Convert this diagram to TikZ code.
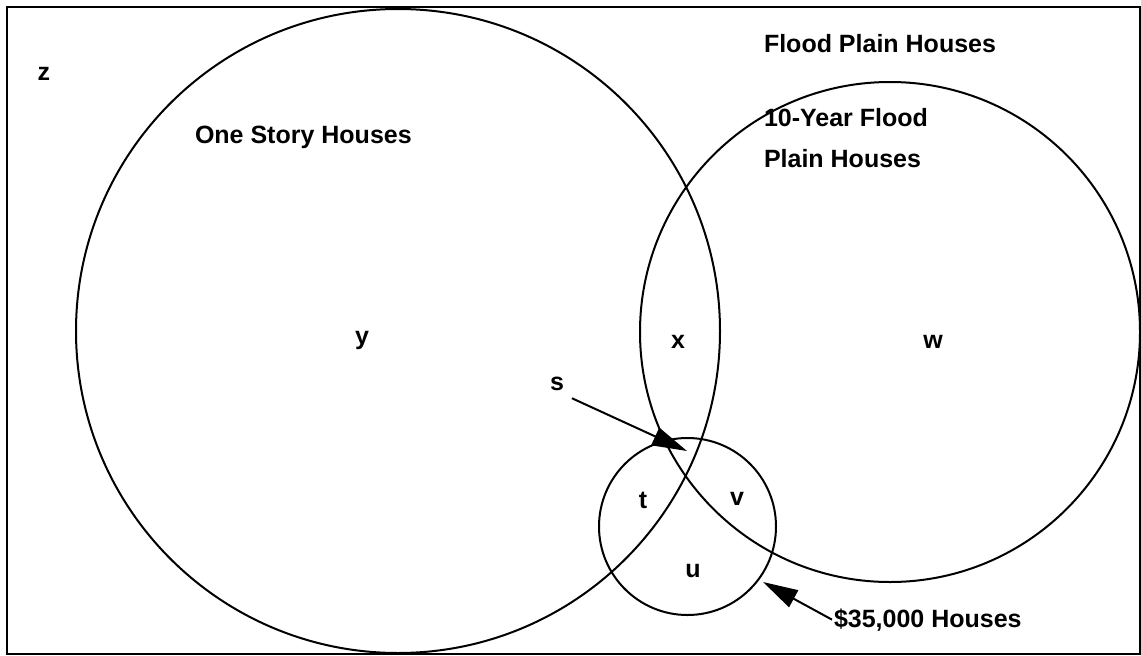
\documentclass[tikz,border=0pt]{standalone}
\usepackage{fontspec}
\setmainfont{Liberation Sans}
\usetikzlibrary{arrows.meta}

\begin{document}
\begin{tikzpicture}[x=1pt,y=-1pt,line width=2pt,
   every node/.style={font=\fontsize{25}{41}\selectfont\bfseries,inner sep=1pt},
   venn/.style={draw,circle,inner sep=0pt},
   region/.style={anchor=base},
   title/.style={anchor=base west,align=left},
   pointer/.style={-{Triangle[length=35pt,width=19pt]}}]
   \useasboundingbox (0,0) rectangle (1141,656);
   \draw (7,7) rectangle (1140,654);
   % the three sets
   \node[venn,minimum size=644pt] (oneStory) at (398,331) {};
   \node[venn,minimum size=500pt] (tenYear) at (890,332) {};
   \node[venn,minimum size=177pt] (cheap) at (687.5,526.5) {};
   % set names
   \node[title] (floodLbl) at (762,52) {Flood Plain Houses};
   \node[title] (oneLbl) at (193,143) {One Story Houses};
   \node[title] (tenLbl) at (762,167) {10-Year Flood\\Plain Houses};
   \node[title] (cheapLbl) at (832,627) {\$35,000 Houses};
   % regions
   \node[region] (z) at (44,80) {z};
   \node[region] (y) at (362,344) {y};
   \node[region] (x) at (678,348) {x};
   \node[region] (w) at (933,348) {w};
   \node[region,inner sep=7pt] (s) at (557,390) {s};
   \node[region] (t) at (643,508) {t};
   \node[region] (v) at (737,505) {v};
   \node[region] (u) at (693,577) {u};
   % pointers
   \coordinate (sTip) at (687,451);
   \coordinate (cheapTip) at (763,582);
   \draw[pointer] (s.south east) -- (sTip);
   \draw[pointer] (cheapLbl.west) -- (cheapTip);
\end{tikzpicture}
\end{document}
